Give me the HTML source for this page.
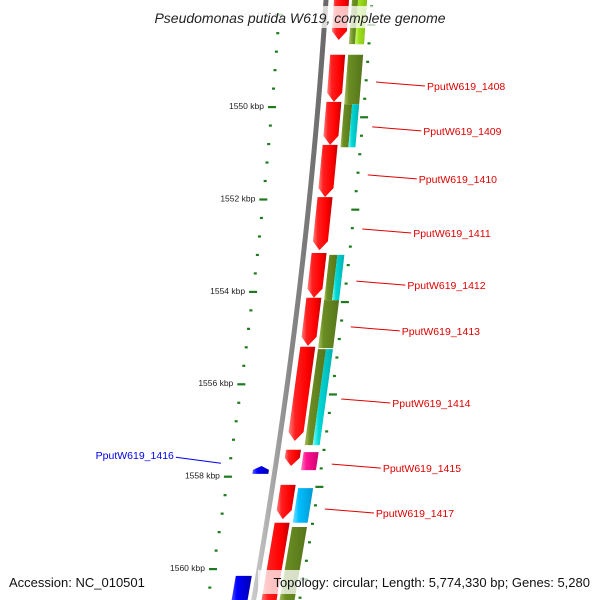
<!DOCTYPE html>
<html><head><meta charset="utf-8">
<style>
html,body{margin:0;padding:0;background:#fff;}
svg{display:block;font-family:"Liberation Sans",sans-serif;}
</style></head>
<body>
<svg id="map" width="600" height="600" viewBox="0 0 600 600" xmlns="http://www.w3.org/2000/svg">
<defs>
<linearGradient id="gRed" x1="0" x2="1" y1="0" y2="0"><stop offset="0" stop-color="#ff8080"/><stop offset="0.25" stop-color="#ff2020"/><stop offset="0.7" stop-color="#ff0000"/><stop offset="1" stop-color="#c00000"/></linearGradient>
<linearGradient id="gOlive" x1="0" x2="1"><stop offset="0" stop-color="#a8c060"/><stop offset="0.25" stop-color="#6b8e23"/><stop offset="1" stop-color="#55741a"/></linearGradient>
<linearGradient id="gCyan" x1="0" x2="1"><stop offset="0" stop-color="#80ffff"/><stop offset="0.3" stop-color="#00d8d8"/><stop offset="1" stop-color="#00b0b0"/></linearGradient>
<linearGradient id="gSky" x1="0" x2="1"><stop offset="0" stop-color="#80dfff"/><stop offset="0.3" stop-color="#00bfff"/><stop offset="1" stop-color="#0098d0"/></linearGradient>
<linearGradient id="gMag" x1="0" x2="1"><stop offset="0" stop-color="#ff80c0"/><stop offset="0.3" stop-color="#ff1493"/><stop offset="1" stop-color="#d00070"/></linearGradient>
<linearGradient id="gYg" x1="0" x2="1"><stop offset="0" stop-color="#d0ff80"/><stop offset="0.3" stop-color="#a0e020"/><stop offset="1" stop-color="#80c010"/></linearGradient>
<linearGradient id="gBlue" x1="0" x2="1"><stop offset="0" stop-color="#6060ff"/><stop offset="0.3" stop-color="#0000ff"/><stop offset="1" stop-color="#0000b0"/></linearGradient>
<linearGradient id="gGray" x1="0" x2="1"><stop offset="0" stop-color="#d0d0d0"/><stop offset="0.5" stop-color="#888"/><stop offset="1" stop-color="#666"/></linearGradient>
</defs>
<g id="layer"></g>
<rect x="138" y="6" width="328" height="22" fill="#fff" fill-opacity="0.75"/>
<text x="300" y="23" text-anchor="middle" font-size="14" font-style="italic" fill="#222">Pseudomonas putida W619, complete genome</text>
<text x="9" y="587" font-size="13" fill="#111">Accession: NC_010501</text>
<rect x="258" y="570" width="338" height="24" fill="#fff" fill-opacity="0.75"/>
<text x="590" y="587" text-anchor="end" font-size="13" fill="#111">Topology: circular; Length: 5,774,330 bp; Genes: 5,280</text>
</svg>
<script>
// gene data (kbp)
const geneStarts = [1547.6,1548.87,1549.89,1550.82,1551.95,1553.16,1554.13,1555.19,1557.42,1558.18,1559.00, 1547.6,1548.87,1549.94,1553.20,1554.18,1555.24,1557.47,1558.25,1559.09, 1549.94,1553.20,1555.24,1547.6, 1557.77,1560.15];
const geneEnds   = [1548.55,1549.89,1550.82,1551.95,1553.10,1554.13,1555.17,1557.23,1557.77,1558.92,1560.8, 1548.64,1549.94,1550.87,1554.18,1555.22,1557.32,1557.86,1559.00,1560.8, 1550.87,1554.18,1557.32,1548.64, 1557.94,1560.8];
const geneTracks = ['r','r','r','r','r','r','r','r','r','r','r', 'o','o','oL','oL','o','oL','o','o','o', 'cR','cR','cR','yR', 'b','b'];
const geneColors = ['gRed','gRed','gRed','gRed','gRed','gRed','gRed','gRed','gRed','gRed','gRed', 'gOlive','gOlive','gOlive','gOlive','gOlive','gOlive','gMag','gSky','gOlive', 'gCyan','gCyan','gCyan','gYg', 'gBlue','gBlue'];
const geneArrow  = [1,1,1,1,1,1,1,1,1,1,0, 0,0,0,0,0,0,0,0,0, 0,0,0,0, -1,0];
// ruler
const rulerMajor = [1548,1550,1552,1554,1556,1558,1560];
const rulerLabels = ['1548 kbp','1550 kbp','1552 kbp','1554 kbp','1556 kbp','1558 kbp','1560 kbp'];
// labels
const labelNames = ['PputW619_1408','PputW619_1409','PputW619_1410','PputW619_1411','PputW619_1412','PputW619_1413','PputW619_1414','PputW619_1415','PputW619_1417','PputW619_1416'];
const labelKbp   = [1549.46,1550.43,1551.47,1552.64,1553.77,1554.76,1556.32,1557.73,1558.70,1557.58];
const labelSide  = [1,1,1,1,1,1,1,1,1,-1];

const NS='http://www.w3.org/2000/svg';
const layer=document.getElementById('layer');
function yOf(k){return 107+(k-1550)*46.2;}
function bb(y){return 326-0.0652*y-0.0000924*y*y;}
function mk(tag,attrs){const e=document.createElementNS(NS,tag);for(const a in attrs)e.setAttribute(a,attrs[a]);layer.appendChild(e);return e;}
const trackOff={r:[8,23],o:[26,41],oL:[26,34],cR:[34,41],yR:[32,41],b:[-22,-6]};

// backbone
(function(){
  let pts=[];for(let y=-5;y<=605;y+=10)pts.push((bb(y)-2.5)+','+y);
  for(let y=605;y>=-5;y-=10)pts.push((bb(y)+2.5)+','+y);
  const e=mk('polygon',{points:pts.join(' '),fill:'url(#gGray)'});
  
  
})();

// rulers
function dot(x,y,name){const e=mk('rect',{x:x-1.5,y:y-1,width:3,height:2.2,fill:'#1f7a1f'});}
for(let k=1547.6;k<=1561;k+=0.4){
  const y=yOf(k); if(y<-2||y>602)continue;
  const maj=rulerMajor.some(m=>Math.abs(m-k)<0.05);
  if(!maj)dot(bb(y)-46,y,'inner-ruler-dot');
}
for(let k=1547.82;k<=1561;k+=0.4){
  const y=yOf(k); if(y<-2||y>602)continue;
  const maj=rulerMajor.some(m=>Math.abs(m+0.22-k)<0.05);
  if(maj){const e=mk('rect',{x:bb(y)+43,y:y-1,width:8,height:2.2,fill:'#1f7a1f'});}
  else dot(bb(y)+46,y,'outer-ruler-dot');
}
rulerMajor.forEach((m,i)=>{
  const y=yOf(m),x=bb(y)-46;
  const t=mk('rect',{x:x-4,y:y-1,width:8,height:2.2,fill:'#1f7a1f'});
  
  
  const l=mk('text',{x:x-8,y:y+2,'text-anchor':'end','font-size':'8.5',fill:i===0?'#ccc':'#222'});
  l.textContent=rulerLabels[i];
  
  
});

// genes
geneStarts.forEach((s,i)=>{
  const y1=yOf(s),y2=yOf(geneEnds[i]);const [a,b]=trackOff[geneTracks[i]];
  const x=(y,o)=>bb(y)+o;let pts;
  const ah=Math.min(9,(y2-y1)*0.5);
  if(geneArrow[i]===1){
    const ym=y2-ah,mid=(a+b)/2;
    pts=[[x(y1,a),y1],[x(y1,b),y1],[x(ym,b),ym],[x(y2,mid),y2],[x(ym,a),ym]];
  }else if(geneArrow[i]===-1){
    const ym=y1+ah,mid=(a+b)/2;
    pts=[[x(y1,mid),y1],[x(ym,b),ym],[x(y2,b),y2],[x(y2,a),y2],[x(ym,a),ym]];
  }else pts=[[x(y1,a),y1],[x(y1,b),y1],[x(y2,b),y2],[x(y2,a),y2]];
  const e=mk('polygon',{points:pts.map(p=>p.join(',')).join(' '),fill:'url(#'+geneColors[i]+')'});
  
  
});

// labels
labelNames.forEach((n,i)=>{
  const y=yOf(labelKbp[i]);
  if(labelSide[i]>0){
    const x0=bb(y)+56;
    const ln=mk('line',{x1:x0,y1:y,x2:x0+49,y2:y+4,stroke:'#e00000','stroke-width':1});
    
    
    const t=mk('text',{x:x0+51,y:y+8,'font-size':'10.5',fill:'#e00000'});t.textContent=n;
    
    
  }else{
    const x0=bb(y)-56;
    const ln=mk('line',{x1:x0,y1:y+6,x2:x0-45,y2:y,stroke:'#0000ee','stroke-width':1});
    
    
    const t=mk('text',{x:x0-47,y:y+2,'text-anchor':'end','font-size':'10.5',fill:'#0000ee'});t.textContent=n;
    
    
  }
});
</script>
</body></html>
